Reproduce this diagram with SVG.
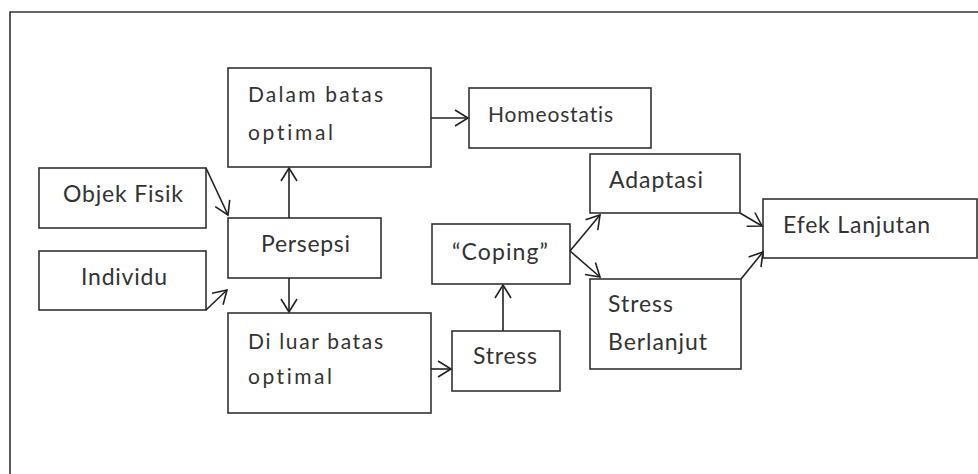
<svg xmlns="http://www.w3.org/2000/svg" width="978" height="474" viewBox="0 0 978 474">
<style>
.box{fill:none;stroke:#333;stroke-width:1.6}
.t{font-family:Lato,"Liberation Sans",sans-serif;fill:#333;font-size:23px;font-variant-ligatures:none}
.s{font-size:21px}
.c{fill:none;stroke:#222;stroke-width:1.6;marker-end:url(#ah)}
</style>
<defs>
<marker id="ah" markerUnits="userSpaceOnUse" viewBox="-15 -10 17 20" refX="0" refY="0" markerWidth="17" markerHeight="20" orient="auto">
<path d="M-13,-8 L0,0 L-13,8" fill="none" stroke="#222" stroke-width="1.6"/>
</marker>
</defs>
<rect width="978" height="474" fill="#fff"/>
<path d="M10,474 L10,12 L978,12" fill="none" stroke="#333" stroke-width="1.6"/>
<g id="objek"><rect class="box" x="39" y="168" width="167" height="60"/><text class="t" x="63" y="202" textLength="120" lengthAdjust="spacing">Objek Fisik</text></g>
<g id="individu"><rect class="box" x="39" y="251" width="167" height="59"/><text class="t" x="81" y="285" textLength="86" lengthAdjust="spacing">Individu</text></g>
<g id="persepsi"><rect class="box" x="228" y="218" width="153" height="60"/><text class="t" x="261" y="252" textLength="89" lengthAdjust="spacing">Persepsi</text></g>
<g id="dalam"><rect class="box" x="228" y="68" width="203" height="99"/><text class="t s" x="248" y="102" textLength="135" lengthAdjust="spacing">Dalam batas</text><text class="t s" x="248" y="140" textLength="85" lengthAdjust="spacing">optimal</text></g>
<g id="diluar"><rect class="box" x="228" y="313" width="203" height="100"/><text class="t s" x="248" y="349" textLength="135" lengthAdjust="spacing">Di luar batas</text><text class="t s" x="248" y="384" textLength="84" lengthAdjust="spacing">optimal</text></g>
<g id="homeostatis"><rect class="box" x="469" y="88" width="182" height="60"/><text class="t s" x="488" y="122" textLength="125" lengthAdjust="spacing">Homeostatis</text></g>
<g id="stress"><rect class="box" x="452" y="331" width="108" height="60"/><text class="t" x="473" y="364" textLength="64" lengthAdjust="spacing">Stress</text></g>
<g id="coping"><rect class="box" x="432" y="224" width="138" height="60"/><text class="t" x="452" y="260" textLength="96" lengthAdjust="spacing">“Coping”</text></g>
<g id="adaptasi"><rect class="box" x="590" y="154" width="150" height="59"/><text class="t" x="609" y="188" textLength="94" lengthAdjust="spacing">Adaptasi</text></g>
<g id="stressberlanjut"><rect class="box" x="590" y="279" width="151" height="90"/><text class="t" x="608" y="312" textLength="65" lengthAdjust="spacing">Stress</text><text class="t" x="608" y="350" textLength="99" lengthAdjust="spacing">Berlanjut</text></g>
<g id="efek"><rect class="box" x="763" y="199" width="214" height="59"/><text class="t" x="783" y="233" textLength="147" lengthAdjust="spacing">Efek Lanjutan</text></g>
<g id="connectors">
<path class="c" d="M206,168 L228,215"/>
<path class="c" d="M206,310 L227,290"/>
<path class="c" d="M289,218 L289,168"/>
<path class="c" d="M289,278 L289,312"/>
<path class="c" d="M431,118 L468,118"/>
<path class="c" d="M431,369 L451,369"/>
<path class="c" d="M503,331 L503,285"/>
<path class="c" d="M570,251 L600,215"/>
<path class="c" d="M570,251 L600,277"/>
<path class="c" d="M740,213 L762,226"/>
<path class="c" d="M741,279 L763,252"/>
</g>
</svg>
